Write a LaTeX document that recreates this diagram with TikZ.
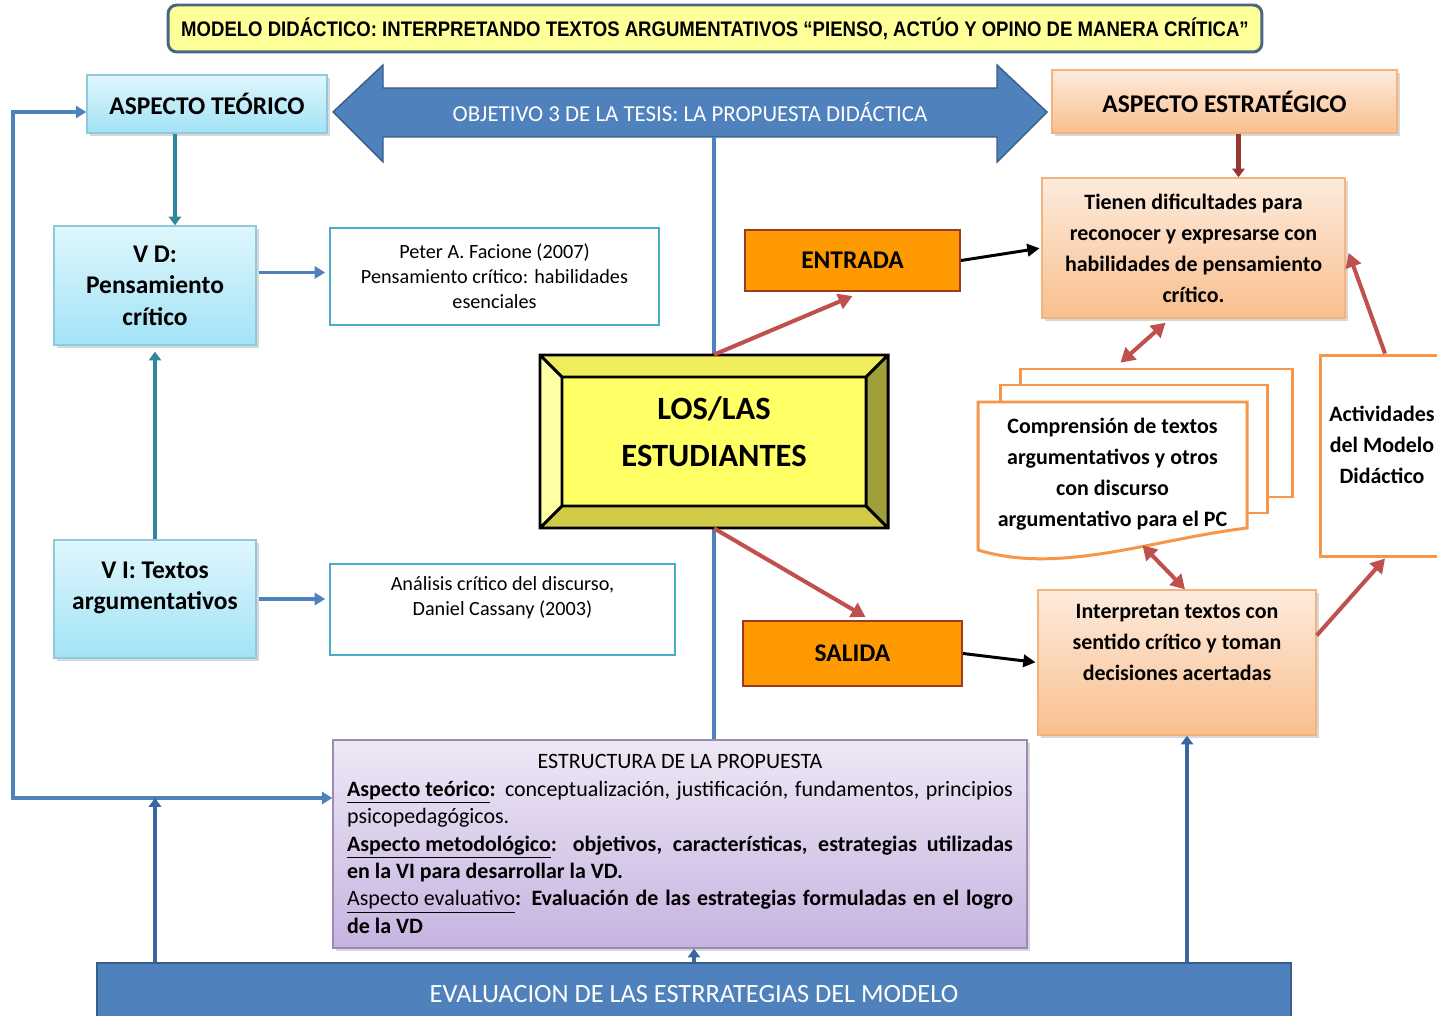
\documentclass[tikz,border=0pt]{standalone}
\usepackage{fontspec}
\setmainfont{Carlito}
\newfontfamily\arialfont{Liberation Sans}
\usetikzlibrary{shapes, shapes.geometric, arrows.meta, shadows, calc}

\definecolor{cyantop}{HTML}{DFF6FC}
\definecolor{cyanbot}{HTML}{A2E3F6}
\definecolor{cyanline}{HTML}{8FC9DD}
\definecolor{orangetop}{HTML}{FDEBDD}
\definecolor{orangebot}{HTML}{F9BF8E}
\definecolor{orangeline}{HTML}{F2B37E}
\definecolor{lilactop}{HTML}{EEE8F5}
\definecolor{lilacbot}{HTML}{C6B3E0}
\definecolor{lilacline}{HTML}{9C8BB5}
\definecolor{titlefill}{HTML}{FFFF99}
\definecolor{titleline}{HTML}{4B6684}
\definecolor{bluemain}{HTML}{4F81BD}
\definecolor{bluedark}{HTML}{385D8A}
\definecolor{tealline}{HTML}{31859C}
\definecolor{refline}{HTML}{4BACC6}
\definecolor{redline}{HTML}{C0504D}
\definecolor{brownline}{HTML}{953735}
\definecolor{upblue}{HTML}{3A67A3}
\definecolor{docline}{HTML}{F79646}
\definecolor{iofill}{HTML}{FF9900}
\definecolor{ioline}{HTML}{9B3B26}
\definecolor{bevtop}{HTML}{EFED5C}
\definecolor{bevleft}{HTML}{FFFFA6}
\definecolor{bevright}{HTML}{9E9E3A}
\definecolor{bevbot}{HTML}{CFCB47}
\definecolor{bevin}{HTML}{FFFF66}

\begin{document}
\begin{tikzpicture}[x=0.02cm, y=-0.02cm,
  cyanbox/.style={draw=cyanline, line width=0.8pt, top color=cyantop, bottom color=cyanbot,
    drop shadow={opacity=0.3, shadow xshift=1.5pt, shadow yshift=-1.5pt}},
  orangebox/.style={draw=orangeline, line width=0.8pt, top color=orangetop, bottom color=orangebot,
    drop shadow={opacity=0.3, shadow xshift=1.5pt, shadow yshift=-1.5pt}},
  refbox/.style={draw=refline, line width=1.6pt, fill=white},
  iobox/.style={draw=ioline, line width=1.2pt, fill=iofill},
  docpage/.style={draw=docline, line width=1.7pt, fill=white},
  bigtext/.style={font=\bfseries\fontsize{14.5}{18}\selectfont, align=center},
  midtext/.style={font=\bfseries\fontsize{12.5}{17.6}\selectfont, align=center},
  reftext/.style={font=\fontsize{11.5}{14.2}\selectfont, align=center},
  bluearrow/.style={draw=bluemain, line width=2pt, -{Triangle[length=6pt,width=7pt]}},
  tealarrow/.style={draw=tealline, line width=2.8pt, -{Triangle[length=5pt,width=7pt]}},
  redarrow/.style={draw=redline, line width=2.3pt, -{Triangle[length=8pt,width=9pt]}},
  redboth/.style={draw=redline, line width=2.3pt, {Triangle[length=8pt,width=9pt]}-{Triangle[length=8pt,width=9pt]}},
  blackarrow/.style={draw=black, line width=1.7pt, -{Triangle[length=7pt,width=7pt]}, shorten >=1pt},
  brownarrow/.style={draw=brownline, line width=2.8pt, -{Triangle[length=5pt,width=7pt]}},
  uparrow/.style={draw=upblue, line width=2.8pt, -{Triangle[length=5pt,width=7pt]}}
]
\useasboundingbox (0,0) rectangle (1437,1016);
\fill[white] (0,0) rectangle (1437,1016);

\node[draw=titleline, line width=1.7pt, fill=titlefill, rounded corners=5pt,
minimum width=21.88cm, minimum height=0.94cm,
font=\arialfont\bfseries\fontsize{12}{14}\selectfont] (title) at (715,28.5)
{\scalebox{0.88}[1]{MODELO DIDÁCTICO: INTERPRETANDO TEXTOS ARGUMENTATIVOS “PIENSO, ACTÚO Y OPINO DE MANERA CRÍTICA”}};

\fill[bluemain, draw=bluedark, line width=0.8pt] (333,112) -- (383,65) -- (383,88)
-- (997,88) -- (997,65) -- (1047,112) -- (997,162) -- (997,137) -- (383,137)
-- (383,162) -- cycle;
\node[minimum width=12.28cm, minimum height=0.98cm, text=white,
font=\fontsize{13}{15}\selectfont] (objetivo) at (690,112.5)
{OBJETIVO 3 DE LA TESIS: LA PROPUESTA DIDÁCTICA};

\node[cyanbox, bigtext, minimum width=4.8cm, minimum height=1.16cm] (teorico)
at (207,104) {ASPECTO TEÓRICO};
\node[orangebox, bigtext, minimum width=6.9cm, minimum height=1.26cm] (estrategico)
at (1224.5,101.5) {ASPECTO ESTRATÉGICO};

\node[cyanbox, bigtext, minimum width=4.04cm, minimum height=2.38cm] (vd)
at (155,285.5) {V D:\\Pensamiento\\crítico};
\node[cyanbox, minimum width=4.04cm, minimum height=2.36cm] (vi) at (155,599) {};
\node[bigtext] (vitext) at (155,588) {V I: Textos\\argumentativos};

\node[refbox, reftext, minimum width=6.58cm, minimum height=1.94cm] (peter)
at (494.5,276.5) {Peter A. Facione (2007)\\Pensamiento crítico: habilidades\\esenciales};
\node[refbox, minimum width=6.9cm, minimum height=1.82cm] (analisis) at (502.5,609.5) {};
\node[reftext] (analisistext) at (502.5,597.5) {Análisis crítico del discurso,\\Daniel Cassany (2003)};

\node[draw=lilacline, line width=0.8pt, top color=lilactop, bottom color=lilacbot,
drop shadow={opacity=0.3, shadow xshift=1.5pt, shadow yshift=-1.5pt},
minimum width=13.88cm, minimum height=4.16cm] (estructura) at (680,844) {};
\node[text width=13.32cm, align=justify, font=\fontsize{12.5}{15.6}\selectfont]
(estructuratext) at (680,844)
{{\centering ESTRUCTURA DE LA PROPUESTA\par}
\textbf{\underline{Aspecto teórico}:} conceptualización, justificación, fundamentos, principios
psicopedagógicos.\par
\textbf{\underline{Aspecto metodológico}: objetivos, características, estrategias utilizadas\linebreak
en la VI para desarrollar la VD.}\par
\underline{Aspecto evaluativo}\textbf{: Evaluación de las estrategias formuladas en el logro
de la VD}};

\node[fill=bluemain, draw=bluedark, line width=0.8pt, minimum width=23.88cm,
minimum height=1.24cm, text=white, font=\fontsize{15}{18}\selectfont] (banner)
at (694,994) {EVALUACION DE LAS ESTRRATEGIAS DEL MODELO};

\node[minimum width=6.96cm, minimum height=3.46cm] (estudiantes) at (714,441.5) {};
\draw[bluemain, line width=2.2pt] (objetivo.south -| estudiantes) -- (estructura.north -| estudiantes);
\fill[bevtop] (540,355) -- (888,355) -- (866,377) -- (562,377) -- cycle;
\fill[bevleft] (540,355) -- (562,377) -- (562,506) -- (540,528) -- cycle;
\fill[bevright] (888,355) -- (888,528) -- (866,506) -- (866,377) -- cycle;
\fill[bevbot] (540,528) -- (562,506) -- (866,506) -- (888,528) -- cycle;
\fill[bevin] (562,377) rectangle (866,506);
\draw[line width=1.7pt] (540,355) rectangle (888,528) (562,377) rectangle (866,506)
(540,355) -- (562,377) (888,355) -- (866,377) (540,528) -- (562,506) (888,528) -- (866,506);
\node[font=\bfseries\fontsize{18.5}{26.6}\selectfont, align=center] (estudiantestext)
at (714,432) {LOS/LAS\\ESTUDIANTES};

\node[iobox, bigtext, minimum width=4.3cm, minimum height=1.22cm] (entrada)
at (852.5,260.5) {ENTRADA};
\node[iobox, bigtext, minimum width=4.38cm, minimum height=1.3cm] (salida)
at (852.5,653.5) {SALIDA};

\node[orangebox, midtext, minimum width=6.06cm, minimum height=2.8cm] (tienen)
at (1193.5,248) {Tienen dificultades para\\reconocer y expresarse con\\habilidades de pensamiento\\crítico.};
\node[orangebox, minimum width=5.56cm, minimum height=2.9cm] (interpretan) at (1177,662.5) {};
\node[midtext] (interpretantext) at (1177,642.5)
{Interpretan textos con\\sentido crítico y toman\\decisiones acertadas};

\node[docpage, minimum width=2.6cm, minimum height=4.04cm] (actividades) at (1385,456) {};
\node[midtext] (actividadestext) at (1382,445) {Actividades\\del Modelo\\Didáctico};

\draw[docpage] (1020,369) rectangle (1292,497);
\draw[docpage] (1000,385) rectangle (1267,513);
\draw[docpage] (978,402) -- (1247,402) -- (1247,528)
.. controls (1150,540) and (1060,575) .. (978,550) -- cycle;
\node[midtext, minimum width=5.38cm, minimum height=2.96cm] (docs) at (1112.5,474)
{Comprensión de textos\\argumentativos y otros\\con discurso\\argumentativo para el PC};

\draw[tealarrow] ($(teorico.south)+(-32,0)$) -- ($(teorico.south |- vd.north)+(-32,0)$);
\draw[tealarrow] (vi.north) -- ($(vd.south)+(0,6)$);
\draw[bluearrow, shorten >=2pt] ($(vd.east |- peter.west)+(2,-4)$) -- ($(peter.west)+(0,-4)$);
\draw[bluearrow, shorten >=2pt] ($(vi.east)+(2,0)$) -- (vi.east -| analisis.west);

\coordinate (fb) at (13,798);
\coordinate (tin) at ($(teorico.west)+(0,8)$);
\draw[bluemain, line width=1.8pt, {Triangle[length=6pt,width=7pt]}-{Triangle[length=6pt,width=7pt]}]
(tin) -- (tin -| fb) -- (fb) -- (fb -| estructura.west);

\draw[redarrow] (estudiantes.north) -- ($(entrada.south)+(0,4)$);
\draw[redarrow] (estudiantes.south) -- ($(salida.north)+(13,-3)$);
\draw[blackarrow] (entrada.east) -- (tienen.west);
\draw[blackarrow] (salida.east) -- (interpretan.west);
\draw[brownarrow] ($(estrategico.south)+(14,0)$) -- ($(estrategico.south |- tienen.north)+(14,0)$);
\draw[redboth] ($(tienen.south)+(-28,4)$) -- ($(docs.north)+(8,-37)$);
\draw[redboth] ($(docs.south)+(30,-3)$) -- ($(interpretan.north)+(8,0)$);
\draw[redarrow] ($(interpretan.east)+(0,-27)$) -- (actividades.south);
\draw[redarrow] (actividades.north) -- ($(tienen.east)+(3,5)$);

\draw[uparrow] (banner.north -| vd.center) -- (fb -| vd.center);
\draw[uparrow] (banner.north) -- (banner.north |- estructura.south);
\draw[uparrow] ($(banner.north -| interpretan.south)+(10,0)$) -- ($(interpretan.south)+(10,0)$);
\end{tikzpicture}
\end{document}
